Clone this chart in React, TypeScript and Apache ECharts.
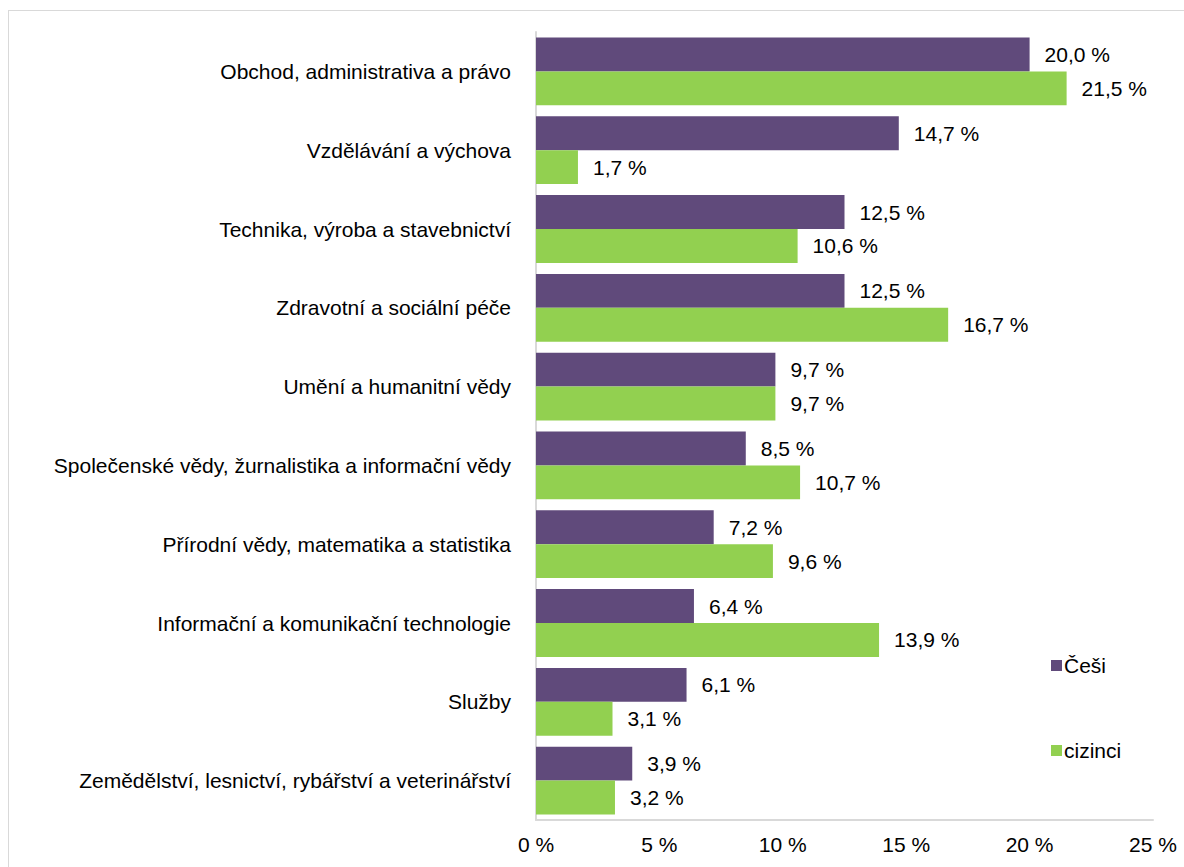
import React, { useEffect, useRef } from "react";
import * as echarts from "echarts";

const categories = [
  "Obchod, administrativa a právo",
  "Vzdělávání a výchova",
  "Technika, výroba a stavebnictví",
  "Zdravotní a sociální péče",
  "Umění a humanitní vědy",
  "Společenské vědy, žurnalistika a informační vědy",
  "Přírodní vědy, matematika a statistika",
  "Informační a komunikační technologie",
  "Služby",
  "Zemědělství, lesnictví, rybářství a veterinářství",
];
const cesi = [20.0, 14.7, 12.5, 12.5, 9.7, 8.5, 7.2, 6.4, 6.1, 3.9];
const cizinci = [21.5, 1.7, 10.6, 16.7, 9.7, 10.7, 9.6, 13.9, 3.1, 3.2];
const seriesNames = ["Češi", "cizinci"];
const colors = ["#604a7b", "#92d050"];

const FONT = "Liberation Sans, Arial, sans-serif";
const FS = 21;

export default function App() {
  const ref = useRef<HTMLDivElement>(null);
  useEffect(() => {
    document.documentElement.style.overflow = "hidden";
    document.body.style.overflow = "hidden";
    const chart = echarts.init(ref.current!, null, { renderer: "svg" });
    const fmt = (v: number) => v.toFixed(1).replace(".", ",") + " %";
    const legendCommon = {
      left: 1037,
      itemWidth: 11,
      itemHeight: 11,
      itemGap: 4,
      icon: "rect",
      textStyle: { fontSize: FS, color: "#000", fontFamily: FONT, padding: [0, 0, 0, -3] },
    };
    chart.setOption({
      animation: false,
      textStyle: { fontFamily: FONT },
      grid: { left: 527, top: 21, width: 617, height: 788, containLabel: false },
      legend: [
        { ...legendCommon, data: [seriesNames[0]], top: 639 },
        { ...legendCommon, data: [seriesNames[1]], top: 724 },
      ],
      xAxis: {
        type: "value",
        min: 0,
        max: 25,
        interval: 5,
        splitLine: { show: false },
        axisLine: { show: true, lineStyle: { color: "#d9d9d9", width: 2 } },
        axisTick: { show: false },
        axisLabel: {
          formatter: (v: number) => v + " %",
          fontSize: FS,
          color: "#000",
          fontFamily: FONT,
          margin: 14,
        },
      },
      yAxis: {
        type: "category",
        data: categories,
        inverse: true,
        axisLine: { show: true, lineStyle: { color: "#d9d9d9", width: 2 } },
        axisTick: { show: false },
        axisLabel: { fontSize: FS, color: "#000", fontFamily: FONT, margin: 25 },
      },
      series: [
        {
          name: seriesNames[0],
          type: "bar",
          data: cesi,
          barGap: "0%",
          barCategoryGap: "14%",
          itemStyle: { color: colors[0] },
          label: {
            show: true,
            position: "right",
            distance: 15,
            formatter: (p: any) => fmt(p.value),
            fontSize: FS,
            color: "#000",
            fontFamily: FONT,
          },
        },
        {
          name: seriesNames[1],
          type: "bar",
          data: cizinci,
          barGap: "0%",
          barCategoryGap: "14%",
          itemStyle: { color: colors[1] },
          label: {
            show: true,
            position: "right",
            distance: 15,
            formatter: (p: any) => fmt(p.value),
            fontSize: FS,
            color: "#000",
            fontFamily: FONT,
          },
        },
      ],
    });
    return () => chart.dispose();
  }, []);
  return (
    <div
      style={{
        position: "fixed",
        left: 8,
        top: 10,
        width: 1210,
        height: 900,
        border: "1px solid #d9d9d9",
        boxSizing: "border-box",
        background: "#fff",
      }}
    >
      <div ref={ref} style={{ width: 1208, height: 898 }} />
    </div>
  );
}
